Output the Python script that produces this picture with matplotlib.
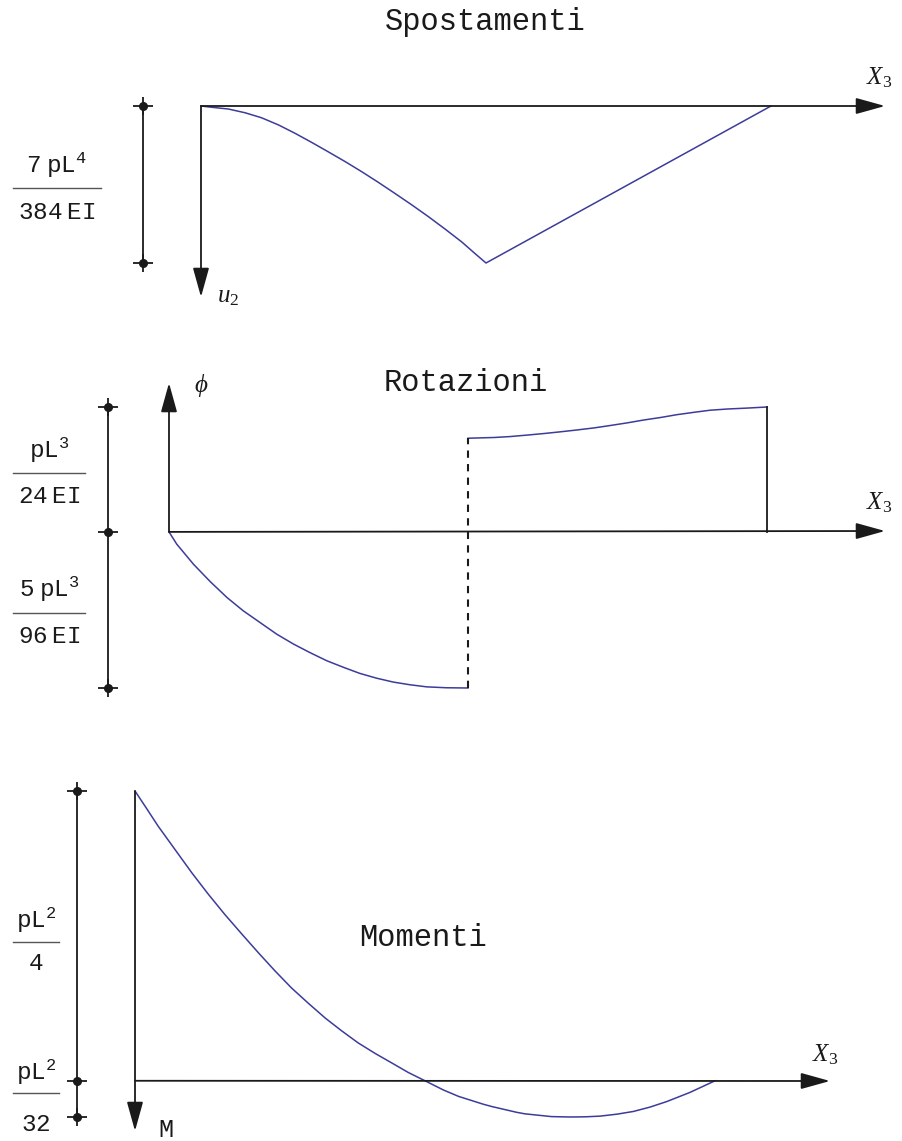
#!/usr/bin/env python3
"""Displacement, rotation and bending-moment diagrams of the hinged beam."""

import matplotlib
matplotlib.use("Agg")
import matplotlib.pyplot as plt
from matplotlib.lines import Line2D

W, H = 902, 1141
INK = "#1a1a1a"
CURVE = "#3c3c9a"
MONO = "Liberation Mono"

plt.rcParams["mathtext.fontset"] = "custom"
plt.rcParams["mathtext.rm"] = "Liberation Serif"
plt.rcParams["mathtext.it"] = "Liberation Serif:italic"
plt.rcParams["mathtext.tt"] = MONO

# x3 / L along the beam
# u2 in pL^4/EI (positive downward)
u_x = [0.0, 0.019, 0.048, 0.077, 0.106, 0.136, 0.165, 0.194, 0.223, 0.253,
       0.282, 0.311, 0.340, 0.370, 0.399, 0.428, 0.457, 0.481, 0.5, 1.0]
u_val = [0.0, 0.00015, 0.00035, 0.00078, 0.00136, 0.0022, 0.00317, 0.00422,
         0.00531, 0.00646, 0.00763, 0.00886, 0.01014, 0.01149, 0.01285,
         0.01428, 0.01576, 0.01715, 0.01823, 0.0]
u_bar = [0.0, 0.01823]

# phi in pL^3/EI, jump at the hinge (x = L/2)
phi_left_x = [0.0, 0.013, 0.041, 0.069, 0.097, 0.124, 0.152, 0.180, 0.208,
              0.236, 0.264, 0.292, 0.319, 0.347, 0.375, 0.403, 0.431, 0.464,
              0.5]
phi_left = [0.0, -0.0041, -0.0108, -0.0166, -0.0219, -0.0263, -0.0302,
            -0.0341, -0.0374, -0.0403, -0.0430, -0.0452, -0.0472, -0.0488,
            -0.0501, -0.0510, -0.0517, -0.0520, -0.05208]
phi_right_x = [0.5, 0.544, 0.570, 0.599, 0.626, 0.655, 0.682, 0.711, 0.738,
               0.767, 0.793, 0.823, 0.849, 0.878, 0.905, 0.934, 0.966, 1.0]
phi_right = [0.03125, 0.0315, 0.0318, 0.0323, 0.0328, 0.0334, 0.0340,
             0.0347, 0.0355, 0.0364, 0.0373, 0.0382, 0.0391, 0.0399, 0.0406,
             0.0410, 0.0413, 0.04167]
phi_bar = [-0.05208, 0.0, 0.04167]

# M in pL^2 (positive downward)
m_x = [0.0, 0.020, 0.040, 0.069, 0.098, 0.126, 0.155, 0.184, 0.213, 0.241,
       0.270, 0.299, 0.328, 0.356, 0.385, 0.414, 0.443, 0.471, 0.5, 0.532,
       0.558, 0.601, 0.615, 0.658, 0.672, 0.718, 0.75, 0.776, 0.802, 0.831,
       0.859, 0.888, 0.917, 0.957, 1.0]
m_val = [-0.25, -0.2349, -0.2196, -0.1995, -0.1794, -0.1612, -0.1434,
         -0.1267, -0.1103, -0.0950, -0.0800, -0.0668, -0.0541, -0.0432,
         -0.0326, -0.0236, -0.0153, -0.0072, 0.0, 0.0080, 0.0135, 0.0203,
         0.0222, 0.0272, 0.0285, 0.0309, 0.03125, 0.0311, 0.0305, 0.0288,
         0.0265, 0.0227, 0.0179, 0.0100, 0.0]
m_bar = [-0.25, 0.0, 0.03125]

titles = ["Spostamenti", "Rotazioni", "Momenti"]
u_label = (r"$\mathtt{7\ pL^{4}}$", r"$\mathtt{384\;EI}$")
phi_labels = [(r"$\mathtt{pL^{3}}$", r"$\mathtt{24\;EI}$"),
              (r"$\mathtt{5\ pL^{3}}$", r"$\mathtt{96\;EI}$")]
m_labels = [(r"$\mathtt{pL^{2}}$", r"$\mathtt{4}$"),
            (r"$\mathtt{pL^{2}}$", r"$\mathtt{32}$")]

fig = plt.figure(figsize=(W / 100, H / 100), dpi=100)


def make_axes(x0, x1, y0, y1, ylim):
    """Axes whose box is the beam span (pixels x0..x1) by the value range."""
    ax = fig.add_axes([x0 / W, 1 - y1 / H, (x1 - x0) / W, (y1 - y0) / H])
    ax.set_xlim(0, 1)
    ax.set_ylim(*ylim)
    ax.axis("off")
    return ax


def to_data(ax, x, y):
    return ax.transData.inverted().transform((x, H - y))


def arrow(ax, start, tip_px):
    tip = to_data(ax, *tip_px)
    ax.annotate("", xy=tip, xytext=start, annotation_clip=False,
                arrowprops=dict(arrowstyle="-|>,head_length=1.8,head_width=0.5",
                                color=INK, lw=1.3, shrinkA=0, shrinkB=0,
                                mutation_scale=10))


def scale_bar(ax, xpx, values):
    x = to_data(ax, xpx, 0)[0]
    lo, hi = min(values), max(values)
    ax.plot([x, x], [lo, hi], color=INK, lw=1.3, clip_on=False)
    ax.plot([x, x], [lo, hi], ls="none", marker="|", ms=13, mew=1.3,
            color=INK, clip_on=False)
    ax.plot([x] * len(values), values, ls="none", marker="_", ms=14, mew=1.3,
            color=INK, clip_on=False)
    ax.plot([x] * len(values), values, ls="none", marker="o", ms=5.5,
            color=INK, clip_on=False)


def fraction(cx, line_y, half, num, den, num_base, den_base, size=17.5):
    fig.text(cx / W, 1 - num_base / H, num, ha="center", va="baseline",
             fontsize=size, color=INK)
    fig.text(cx / W, 1 - den_base / H, den, ha="center", va="baseline",
             fontsize=size, color=INK)
    fig.add_artist(Line2D([(cx - half) / W, (cx + half) / W],
                          [1 - line_y / H] * 2, color="#555555", lw=1.0))


def label(x, y, s, **kw):
    kw.setdefault("fontsize", 18)
    fig.text(x / W, 1 - y / H, s, color=INK, **kw)


# --- displacements
ax1 = make_axes(201, 771, 106, 263, (u_bar[1], 0.0))
arrow(ax1, (0, 0), (885, 106))
arrow(ax1, (0, 0), (201, 297))
ax1.plot(u_x, u_val, color=CURVE, lw=1.1, clip_on=False)
scale_bar(ax1, 143, u_bar)
fraction(57, 188, 44, *u_label, 173, 219)
label(485, 22, titles[0], ha="center", va="center", family=MONO, fontsize=22)
label(866, 78, r"$X_3$", ha="left", va="center")
label(217, 296, r"$u_2$", ha="left", va="center")

# --- rotations
ax2 = make_axes(169, 767, 407, 688, (phi_bar[0], phi_bar[2]))
arrow(ax2, (0, 0), (885, 531))
arrow(ax2, (0, 0), (169, 383))
ax2.plot(phi_left_x, phi_left, color=CURVE, lw=1.1, clip_on=False)
ax2.plot(phi_right_x, phi_right, color=CURVE, lw=1.1, clip_on=False)
ax2.plot([0.5, 0.5], [phi_left[-1], phi_right[0]], color=INK, lw=1.5,
         dashes=(3.5, 3), clip_on=False)
ax2.plot([1.0, 1.0], [0.0, phi_right[-1]], color=INK, lw=1.3, clip_on=False)
scale_bar(ax2, 108, phi_bar)
fraction(49, 473, 36, *phi_labels[0], 458, 503)
fraction(49, 613, 36, *phi_labels[1], 597, 643)
label(466, 383, titles[1], ha="center", va="center", family=MONO, fontsize=22)
label(866, 503, r"$X_3$", ha="left", va="center")
label(194, 385, r"$\phi$", ha="left", va="center")

# --- bending moment
ax3 = make_axes(135, 715, 791, 1117, (m_bar[2], m_bar[0]))
arrow(ax3, (0, 0), (830, 1081))
arrow(ax3, (0, m_bar[0]), (135, 1131))
ax3.plot(m_x, m_val, color=CURVE, lw=1.1, clip_on=False)
scale_bar(ax3, 77, m_bar)
fraction(36, 942, 23, *m_labels[0], 928, 970)
fraction(36, 1093, 23, *m_labels[1], 1080, 1131)
label(423, 938, titles[2], ha="center", va="center", family=MONO, fontsize=22)
label(812, 1055, r"$X_3$", ha="left", va="center")
label(158, 1130, "M", ha="left", va="center", family=MONO)

fig.savefig("out.png", dpi=100)
